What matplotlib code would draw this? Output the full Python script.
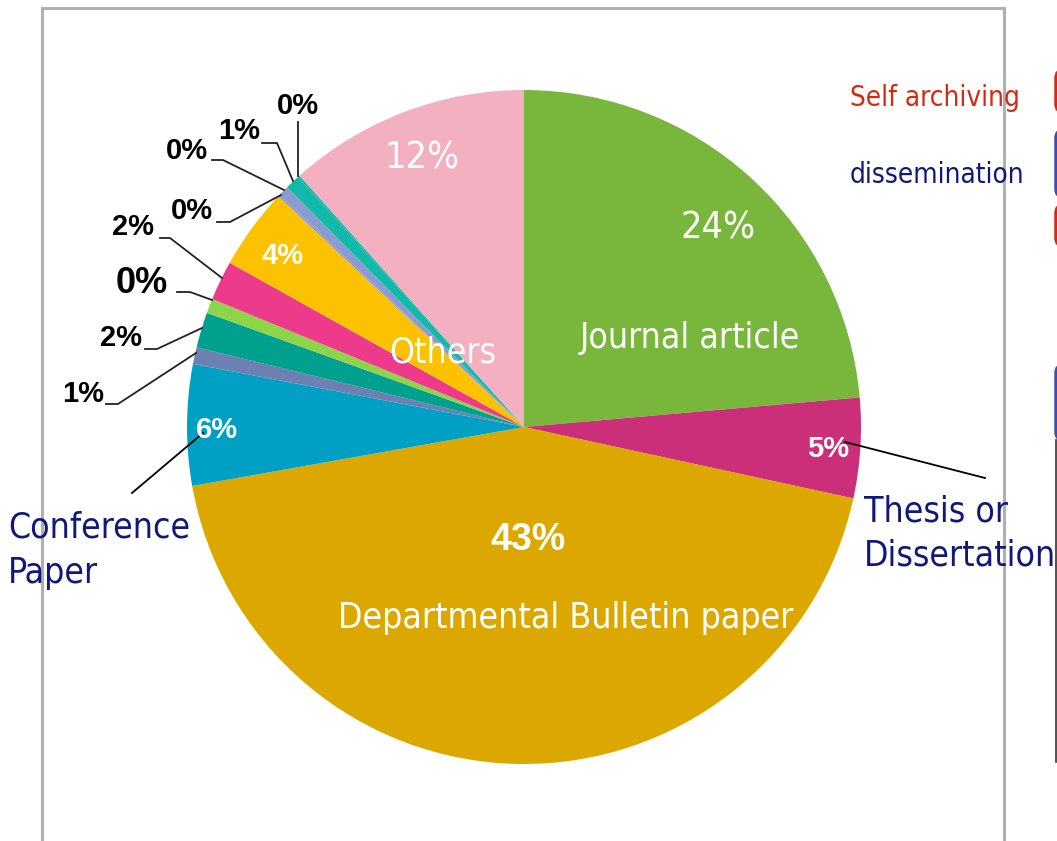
import matplotlib.pyplot as plt
from matplotlib.patches import FancyBboxPatch

# slice shares (%), clockwise from 12 o'clock
shares = [23.6, 4.8, 43.8, 5.8, 0.8, 1.7, 0.7, 1.9, 3.9, 0.1, 0.5, 0.7, 0.1, 11.6]
colors = ['#78b63c', '#cc2f79', '#dca800', '#00a0c4', '#6c80b2', '#00a08f',
          '#8ed448', '#ee3a8b', '#fcc200', '#8c9ad2', '#8c9ad2', '#12b9a9',
          '#12b9a9', '#f3b0c0']

# white labels inside the pie
inner_labels = ['24%', 'Journal article', '5%', '43%', 'Departmental Bulletin paper',
                '6%', '4%', '12%', 'Others']
inner_pos = [(718, 228), (690, 338), (828, 449), (528, 540), (566, 618),
             (217, 430), (283, 256), (422, 158), (443, 352)]
inner_bold = [False, False, True, True, False, True, True, False, False]
inner_size = [27, 25.5, 21, 27, 25.5, 21, 21, 27, 25.5]

# black labels outside the pie with leader lines
outer_labels = ['0%', '1%', '0%', '0%', '2%', '0%', '2%', '1%']
outer_pos = [(298, 106), (239, 131), (187, 151), (192, 211), (133, 227),
             (142, 283), (121, 338), (83, 394)]
outer_size = [21, 21, 21, 21, 21, 26, 21, 21]
leaders = [
    [(298, 122), (298, 176)],
    [(262, 143), (277, 143), (293, 181)],
    [(212, 160), (223, 160), (284, 190)],
    [(217, 222), (230, 222), (281, 195)],
    [(160, 238), (170, 238), (222, 278)],
    [(177, 292), (190, 292), (212, 300)],
    [(145, 349), (157, 349), (202, 328)],
    [(106, 404), (118, 404), (196, 353)],
]

H = 841


def py(y):
    return H - y


fig = plt.figure(figsize=(10.57, 8.41), dpi=100)
ax = fig.add_axes([0, 0, 1, 1])

# frame of the slide box
ax.plot([42, 42, 1004, 1004], [0, py(8), py(8), 0], color='#b0b0b0', lw=2.2,
        solid_joinstyle='miter')

ax.pie(shares, colors=colors, startangle=90, counterclock=False,
       center=(524, py(427)), radius=337, frame=True,
       wedgeprops=dict(linewidth=0))
ax.set_xlim(0, 1057)
ax.set_ylim(0, H)
ax.set_aspect('equal')
ax.axis('off')

pct_font = ['Liberation Sans Narrow', 'Liberation Sans', 'DejaVu Sans']
word_font = ['DejaVu Sans']

for txt, (x, y), b, s in zip(inner_labels, inner_pos, inner_bold, inner_size):
    ax.text(x, py(y), txt, color='white', ha='center', va='center',
            fontsize=s, family=pct_font if b else word_font,
            fontweight='bold' if b else 'normal', stretch='condensed')

for txt, (x, y), s in zip(outer_labels, outer_pos, outer_size):
    ax.text(x, py(y), txt, color='black', ha='center', va='center',
            fontsize=s, family=pct_font, fontweight='bold', stretch='condensed')

for pts in leaders:
    ax.plot([p[0] for p in pts], [py(p[1]) for p in pts], color='#222222', lw=1.3)

# callouts for the two small named slices
ax.plot([132, 203], [py(493), py(433)], color='black', lw=1.3)
ax.plot([845, 985], [py(442), py(478)], color='black', lw=1.3)

navy = '#10187a'
for txt, x, y in [('Conference', 8, 527), ('Paper', 8, 573),
                  ('Thesis or', 864, 511), ('Dissertation', 864, 556)]:
    ax.text(x, py(y), txt, color=navy, fontsize=25.5, ha='left', va='center',
            family=word_font, stretch='condensed')

ax.text(850, py(98), 'Self archiving', color='#d42a10', fontsize=20, ha='left',
        va='center', family=word_font, stretch='condensed')
ax.text(850, py(175), 'dissemination', color=navy, fontsize=20, ha='left',
        va='center', family=word_font, stretch='condensed')

# edges of neighbouring boxes cut off at the right border
for y0, y1, c in [(70, 112, '#d42a10'), (130, 197, '#3f4fa8'),
                  (205, 246, '#d42a10'), (365, 440, '#3f4fa8')]:
    ax.add_patch(FancyBboxPatch((1056, py(y1)), 30, y1 - y0,
                                boxstyle='round,pad=0,rounding_size=8',
                                fc='white', ec=c, lw=2.5, clip_on=True))
ax.plot([1055.5, 1055.5], [py(440), py(762)], color='#333333', lw=1.2)

fig.savefig('out.png', dpi=100)
